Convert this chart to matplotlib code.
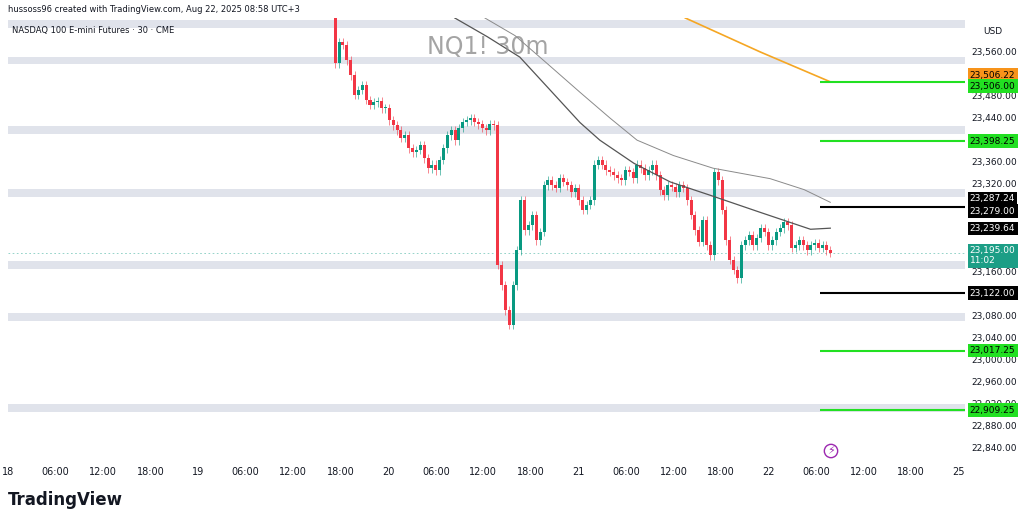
import matplotlib.pyplot as plt
import numpy as np

# 30m closes, NQ1! (open = previous close)
first_open = 23622
closes = [
    23540, 23578, 23573, 23545, 23518, 23482, 23491, 23500, 23473, 23464,
    23469, 23471, 23458, 23458, 23436, 23427, 23418, 23404, 23409, 23385,
    23378, 23382, 23391, 23367, 23349, 23355, 23345, 23364, 23385, 23409,
    23418, 23400, 23422, 23433, 23436, 23440, 23433, 23429, 23422, 23418,
    23429, 23427, 23173, 23136, 23091, 23064, 23136, 23200, 23291, 23236,
    23245, 23264, 23218, 23233, 23318, 23327, 23318, 23313, 23331, 23324,
    23318, 23305,
    23313, 23291, 23273, 23282, 23291, 23355, 23364, 23355, 23345, 23342,
    23336, 23331, 23327, 23345, 23342, 23331, 23355, 23349, 23336, 23345,
    23355, 23336, 23309, 23300, 23318, 23315, 23305, 23318, 23313, 23291,
    23264, 23236, 23215, 23255, 23209, 23191, 23342, 23327, 23273, 23218,
    23182,
    23164, 23149, 23209, 23218, 23227, 23209, 23222, 23240, 23233, 23209,
    23218, 23233, 23240, 23251, 23245, 23204, 23209, 23218, 23209, 23200,
    23209, 23213, 23204, 23209, 23200, 23195,
]
wick = 8

# moving averages (hours since Aug 18 00:00, price)
ma_dark_t = [56.4, 60.5, 64.6, 68.5, 72.2, 74.7, 79.0, 83.6, 88.6, 94.9, 101.3, 103.8]
ma_dark_p = [23622, 23588, 23551, 23490, 23432, 23400, 23358, 23324, 23300, 23269, 23238, 23240]
ma_light_t = [60.2, 64.0, 68.0, 72.2, 76.0, 79.4, 84.0, 89.0, 96.2, 100.5, 103.8]
ma_light_p = [23622, 23590, 23540, 23487, 23440, 23400, 23372, 23349, 23330, 23310, 23287]
ma_orange_t = [85.5, 95.0, 103.8]
ma_orange_p = [23622, 23560, 23506]

bands = [23611, 23545, 23418, 23304, 23173, 23078, 22913]
green_levels = [23506.00, 23398.25, 23017.25, 22909.25]
black_levels = [23279.00, 23122.00]
last_price = 23195.00
hidden_ticks = [23520, 23400, 23280, 23240, 23200, 23120]

tick_pos = list(range(0, 121, 6))
tick_lbl = ["18", "06:00", "12:00", "18:00", "19", "06:00", "12:00", "18:00",
            "20", "06:00", "12:00", "18:00", "21", "06:00", "12:00", "18:00",
            "22", "06:00", "12:00", "18:00", "25"]

GREEN, RED = "#089981", "#f23645"
LEVEL = "#22e022"

fig = plt.figure(figsize=(10.24, 5.22), dpi=100)
ax = fig.add_axes([8 / 1024, 60 / 522, 957 / 1024, 444 / 522])
ax.set_xlim(0, 120.8)
ax.set_ylim(22815, 23622)
for s in ax.spines.values():
    s.set_visible(False)
ax.tick_params(length=0)
ax.set_xticks(tick_pos)
ax.set_xticklabels(tick_lbl, fontsize=7, color="#131722")
ax.set_yticks([])

for b in bands:
    ax.axhspan(b - 7, b + 7, color="#e0e3eb", zorder=0, lw=0)

t = np.linspace(41.3, 103.8, len(closes))
opens = [first_open] + closes[:-1]
for ti, o, c in zip(t, opens, closes):
    col = GREEN if c >= o else RED
    ax.vlines(ti, min(o, c) - wick, max(o, c) + wick, color=col, lw=0.7, alpha=0.6, zorder=3)
    ax.bar(ti, max(abs(c - o), 1.5), bottom=min(o, c), width=0.38, color=col, zorder=4)

ax.plot(ma_dark_t, ma_dark_p, color="#555555", lw=0.9, zorder=5)
ax.plot(ma_light_t, ma_light_p, color="#8a8a8a", lw=0.7, zorder=5)
ax.plot(ma_orange_t, ma_orange_p, color="#f5a623", lw=1.2, zorder=5)

ax.axhline(last_price, color=GREEN, lw=0.6, ls=(0, (2, 3)), alpha=0.5, zorder=2)
for lv in green_levels:
    ax.hlines(lv, 102.5, 120.8, color=LEVEL, lw=1.5, zorder=5)
for lv in black_levels:
    ax.hlines(lv, 102.5, 120.8, color="black", lw=1.5, zorder=5)

# right price axis
for p in range(22840, 23561, 40):
    if p in hidden_ticks:
        continue
    ax.annotate(f"{p:,.2f}", (1.007, p), xycoords=("axes fraction", "data"),
                fontsize=6.5, color="#131722", va="center", annotation_clip=False)

def tag(price, text, fc, tc="black", dy=0):
    ax.annotate(text, (1.005, price + dy), xycoords=("axes fraction", "data"),
                fontsize=6.5, color=tc, va="center", annotation_clip=False, zorder=10,
                bbox=dict(boxstyle="square,pad=0.25", fc=fc, ec="none"))

tag(23506.22, "23,506.22", "#f7931a", dy=12)
tag(23506.00, "23,506.00", LEVEL, dy=-8)
tag(23398.25, "23,398.25", LEVEL)
tag(23287.24, "23,287.24", "black", "white", dy=6)
tag(23279.00, "23,279.00", "black", "white", dy=-8)
tag(23239.64, "23,239.64", "black", "white")
tag(last_price, "23,195.00\n11:02", "#1c9e86", "white", dy=-5)
tag(23122.00, "23,122.00", "black", "white")
tag(23017.25, "23,017.25", LEVEL)
tag(22909.25, "22,909.25", LEVEL)

fig.text(983 / 1024, 1 - 31 / 522, "USD", fontsize=6.5, color="#131722", va="center")
fig.text(8 / 1024, 1 - 10 / 522, "hussoss96 created with TradingView.com, Aug 22, 2025 08:58 UTC+3",
         fontsize=6, color="#131722", va="center")
fig.text(12 / 1024, 1 - 30 / 522, "NASDAQ 100 E-mini Futures · 30 · CME",
         fontsize=6, color="#131722", va="center")
fig.text(488 / 1024, 1 - 47 / 522, "NQ1! 30m", fontsize=17, color="#8d8d8d",
         ha="center", va="center", alpha=0.8)
fig.text(8 / 1024, 1 - 500 / 522, "TradingView", fontsize=12, fontweight="bold",
         color="#131722", va="center")
fig.text(831 / 1024, 1 - 451 / 522, "⚡", fontsize=8, color="#9c27b0", ha="center", va="center",
         bbox=dict(boxstyle="circle,pad=0.15", fc="white", ec="#9c27b0", lw=1))

fig.savefig("out.png", dpi=100, facecolor="white")
